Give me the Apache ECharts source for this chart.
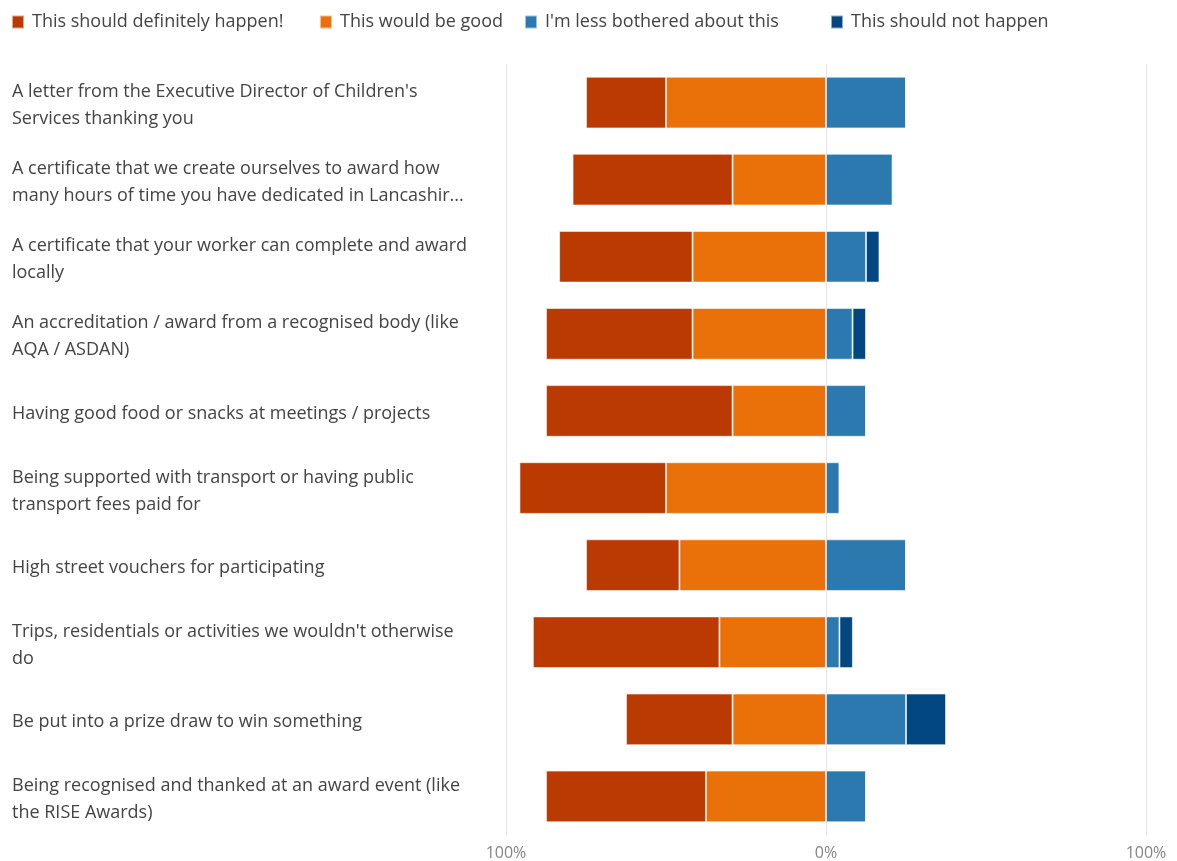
<!DOCTYPE html>
<html>
<head>
<meta charset="utf-8">
<script src="https://cdn.jsdelivr.net/npm/echarts@6/dist/echarts.min.js"></script>
<style>
html,body{margin:0;padding:0;background:#fff;}
#chart{width:1177px;height:861px;}
</style>
</head>
<body>
<div id="chart"></div>
<script>
const categories = [
  "A letter from the Executive Director of Children's\nServices thanking you",
  "A certificate that we create ourselves to award how\nmany hours of time you have dedicated in Lancashir...",
  "A certificate that your worker can complete and award\nlocally",
  "An accreditation / award from a recognised body (like\nAQA / ASDAN)",
  "Having good food or snacks at meetings / projects",
  "Being supported with transport or having public\ntransport fees paid for",
  "High street vouchers for participating",
  "Trips, residentials or activities we wouldn't otherwise\ndo",
  "Be put into a prize draw to win something",
  "Being recognised and thanked at an award event (like\nthe RISE Awards)"
];
const seriesNames = ["This should definitely happen!", "This would be good", "I'm less bothered about this", "This should not happen"];
const definitely = [25, 50, 41.7, 45.8, 58.3, 45.8, 29.2, 58.3, 33.3, 50];
const good       = [50, 29.2, 41.7, 41.7, 29.2, 50, 45.8, 33.3, 29.2, 37.5];
const lessBothered = [25, 20.8, 12.5, 8.3, 12.5, 4.2, 25, 4.2, 25, 12.5];
const notHappen  = [0, 0, 4.2, 4.2, 0, 0, 0, 4.2, 12.5, 0];
const xTicks = [-100, 0, 100];
const colors = ["#BA3A02", "#EA7009", "#2C79B0", "#024780"];

const chart = echarts.init(document.getElementById('chart'), null, {renderer: 'canvas'});
const neg = a => a.map(v => -v);
const legendLefts = [11, 319, 524, 830];
const legends = seriesNames.map((n, i) => ({
  data: [n], left: legendLefts[i], top: 13,
  icon: 'rect', itemWidth: 12, itemHeight: 13, padding: 0,
  textStyle: {fontSize: 18, color: '#444', fontFamily: 'Open Sans', padding: [0, 0, 0, 3]}
}));
const mk = (name, data, color) => ({
  type: 'bar', stack: 'total', barWidth: '67%', name: name, data: data,
  itemStyle: {color: color, borderColor: 'rgba(255,255,255,0.55)', borderWidth: 1},
  emphasis: {disabled: true}
});
chart.setOption({
  animation: false,
  textStyle: {fontFamily: 'Open Sans'},
  legend: legends,
  grid: {left: 506, right: 31, top: 64, bottom: 26, containLabel: false},
  xAxis: {
    type: 'value', min: -100, max: 100, interval: 100,
    axisLine: {show: false}, axisTick: {show: false},
    splitLine: {show: true, lineStyle: {color: '#e6e6e6', width: 1}},
    axisLabel: {
      color: '#858585', fontSize: 16, margin: 10,
      formatter: v => xTicks.includes(v) ? Math.abs(v) + '%' : ''
    }
  },
  yAxis: {
    type: 'category', data: categories, inverse: true,
    axisLine: {show: true, onZero: false, lineStyle: {color: '#e6e6e6'}},
    axisTick: {show: false},
    axisLabel: {
      align: 'left', margin: 494, color: '#444', fontSize: 18, lineHeight: 27,
      fontFamily: 'Open Sans',
      formatter: v => '{s| }\n' + v.split('\n').map(l => '{t|' + l + '}').join('\n'),
      rich: {
        s: {fontSize: 1, lineHeight: 6, height: 6},
        t: {fontSize: 18, lineHeight: 27, color: '#444', fontFamily: 'Open Sans'}
      }
    }
  },
  series: [
    mk(seriesNames[1], neg(good), colors[1]),
    mk(seriesNames[0], neg(definitely), colors[0]),
    mk(seriesNames[2], lessBothered, colors[2]),
    mk(seriesNames[3], notHappen, colors[3])
  ]
});
</script>
</body>
</html>
